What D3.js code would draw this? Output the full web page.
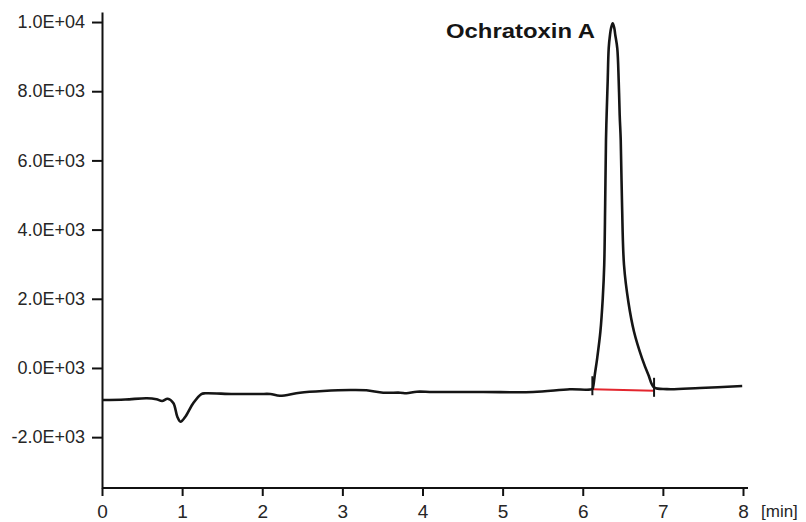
<!DOCTYPE html>
<html>
<head>
<meta charset="utf-8">
<script src="https://cdn.jsdelivr.net/npm/d3@7"></script>
<style>
  body { margin: 0; background: #fff; }
  svg { display: block; }
  .tick text { fill: #262626; font-family: "Liberation Sans", Arial, sans-serif; }
</style>
</head>
<body>
<svg></svg>
<script>
// retention time [min] and detector signal
let times = [0, 0.29, 0.56, 0.68, 0.75, 0.82, 0.89, 0.94, 0.98, 1.04, 1.14, 1.24, 1.29,
             1.64, 1.97, 2.10, 2.22, 2.47, 2.76, 3.10, 3.30, 3.51, 3.72, 3.80, 3.93,
             4.13, 4.76, 5.38, 5.84, 6.12, 6.13, 6.15, 6.18, 6.22, 6.25, 6.268, 6.28,
             6.29, 6.298, 6.311, 6.324, 6.34, 6.353, 6.374, 6.394, 6.406, 6.431, 6.449,
             6.461, 6.474, 6.49, 6.515, 6.57, 6.64, 6.74, 6.82, 6.89, 7.05, 7.46, 7.99]
let signal = [-926, -912, -877, -906, -955, -889, -1013, -1409, -1553, -1409, -1013, -753, -732,
              -753, -753, -753, -802, -715, -666, -637, -645, -715, -715, -732, -686,
              -695, -695, -695, -617, -608, -542, -203, 279, 1048, 2023, 2976, 4769,
              6590, 7313, 8275, 9241, 9625, 9819, 9963, 9819, 9625, 9241, 8275,
              7313, 6590, 4769, 2976, 1900, 1048, 279, -203, -560, -612, -579, -521]

// integration baseline of the peak
let peakStart = [6.12, -615]
let peakEnd = [6.89, -660]
let peakName = 'Ochratoxin A'

let xTickValues = [0, 1, 2, 3, 4, 5, 6, 7, 8]
let yTickValues = [-2000, 0, 2000, 4000, 6000, 8000, 10000]
let yTickLabels = ['-2.0E+03', '0.0E+03', '2.0E+03', '4.0E+03', '6.0E+03', '8.0E+03', '1.0E+04']
let xUnit = '[min]'

let width = 806
let height = 522

let svg = d3.select('svg')
    .attr('width', width)
    .attr('height', height)

let xScale = d3.scaleLinear()
    .domain([0, 8])
    .range([102, 743])

let yScale = d3.scaleLinear()
    .domain([-3470, 10290])
    .range([488, 12])

// axes
let xAxis = d3.axisBottom(xScale)
    .tickValues(xTickValues)
    .tickFormat(d3.format('d'))
    .tickSize(8)
    .tickPadding(9)
    .tickSizeOuter(0)

let yAxis = d3.axisLeft(yScale)
    .tickValues(yTickValues)
    .tickFormat((d, i) => yTickLabels[i])
    .tickSize(10)
    .tickPadding(7)
    .tickSizeOuter(0)

let gx = svg.append('g')
    .attr('transform', `translate(0, ${yScale.range()[0]})`)
    .call(xAxis)
gx.select('.domain').attr('d', `M${xScale(0)},0H${xScale(8) + 5}`)

let gy = svg.append('g')
    .attr('transform', `translate(${xScale(0)}, 0)`)
    .call(yAxis)

svg.selectAll('.domain, .tick line')
    .attr('stroke', '#111')
    .attr('stroke-width', 2)

gx.selectAll('.tick text').style('font-size', '19px')
gy.selectAll('.tick text').style('font-size', '18px')

svg.append('text')
    .attr('x', 761)
    .attr('y', 517)
    .attr('fill', '#262626')
    .style('font-family', '"Liberation Sans", Arial, sans-serif')
    .style('font-size', '17px')
    .text(xUnit)

// chromatogram trace
let points = times.map((t, i) => [t, signal[i]])

let line = d3.line()
    .x(d => xScale(d[0]))
    .y(d => yScale(d[1]))
    .curve(d3.curveCatmullRom.alpha(0.5))

// peak baseline (red) and the start / end markers
svg.append('line')
    .attr('x1', xScale(peakStart[0]))
    .attr('y1', yScale(peakStart[1]))
    .attr('x2', xScale(peakEnd[0]))
    .attr('y2', yScale(peakEnd[1]))
    .attr('stroke', '#e3262e')
    .attr('stroke-width', 2)

svg.append('path')
    .datum(points)
    .attr('d', line)
    .attr('fill', 'none')
    .attr('stroke', '#151515')
    .attr('stroke-width', 2.6)
    .attr('stroke-linejoin', 'round')

svg.selectAll('.marker')
    .data([peakStart, peakEnd])
    .enter()
    .append('line')
    .attr('class', 'marker')
    .attr('x1', d => xScale(d[0]))
    .attr('x2', d => xScale(d[0]))
    .attr('y1', d => yScale(d[1]) - 13)
    .attr('y2', d => yScale(d[1]) + 6)
    .attr('stroke', '#151515')
    .attr('stroke-width', 2)

svg.append('text')
    .attr('x', 446)
    .attr('y', 38)
    .attr('textLength', 149)
    .attr('lengthAdjust', 'spacingAndGlyphs')
    .attr('fill', '#151515')
    .style('font-family', '"Liberation Sans", Arial, sans-serif')
    .style('font-weight', 'bold')
    .style('font-size', '21px')
    .text(peakName)
</script>
</body>
</html>
